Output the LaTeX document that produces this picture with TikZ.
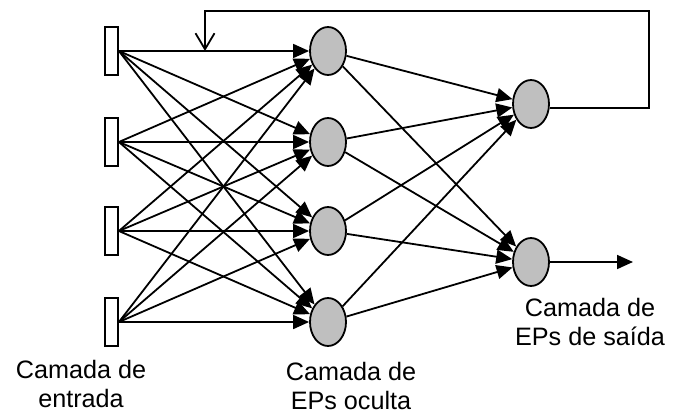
\documentclass[tikz,border=0pt]{standalone}
\usepackage{fontspec}
\setmainfont{Liberation Sans}
\usetikzlibrary{shapes.geometric,arrows.meta,calc}

\tikzset{
  entrada/.style={draw, fill=white, minimum width=6.5pt, minimum height=24pt, inner sep=0pt},
  neuronio/.style={draw, ellipse, fill=black!25, minimum width=18pt, minimum height=24pt, inner sep=0pt},
  liga/.style={-{Triangle[length=8pt,width=7pt]}},
  rotulo/.style={align=center, anchor=north, inner sep=0pt, font=\fontsize{12.6pt}{14.5pt}\selectfont}
}

\begin{document}
\begin{tikzpicture}[x=0.5pt, y=-0.5pt, line width=0.9pt]
  \useasboundingbox (0,0) rectangle (675,412);
  % Camadas
  \foreach \i/\y in {1/51,2/142,3/231,4/322} {
    \node[entrada] (e\i) at (111.5,\y) {};
    \node[neuronio] (o\i) at (328,\y) {};
  }
  \node[neuronio] (s1) at (531,104) {};
  \node[neuronio] (s2) at (531,262) {};
  % Ligacoes
  \foreach \i in {1,...,4} {
    \foreach \j in {1,...,4}
      \draw[liga] (e\i.east) -- (o\j);
    \foreach \k in {1,2}
      \draw[liga] (o\i) -- (s\k);
  }
  % Realimentacao
  \coordinate (r1) at (649,11);
  \coordinate (r2) at (205,11);
  \coordinate (r3) at (205,51);
  \draw[-{Straight Barb[length=8pt,width=9.5pt]}] ($(s1.east)+(0,4)$) -| (r1) -- (r2) -- (r3);
  % Saida
  \coordinate (saida) at (633,262);
  \draw[liga] (s2) -- (saida);
  % Rotulos
  \node[rotulo] (l1) at (81,359) {Camada de\\entrada};
  \node[rotulo] (l2) at (351,361) {Camada de\\EPs oculta};
  \node[rotulo] (l3) at (590,297) {Camada de\\EPs de saída};
\end{tikzpicture}
\end{document}
